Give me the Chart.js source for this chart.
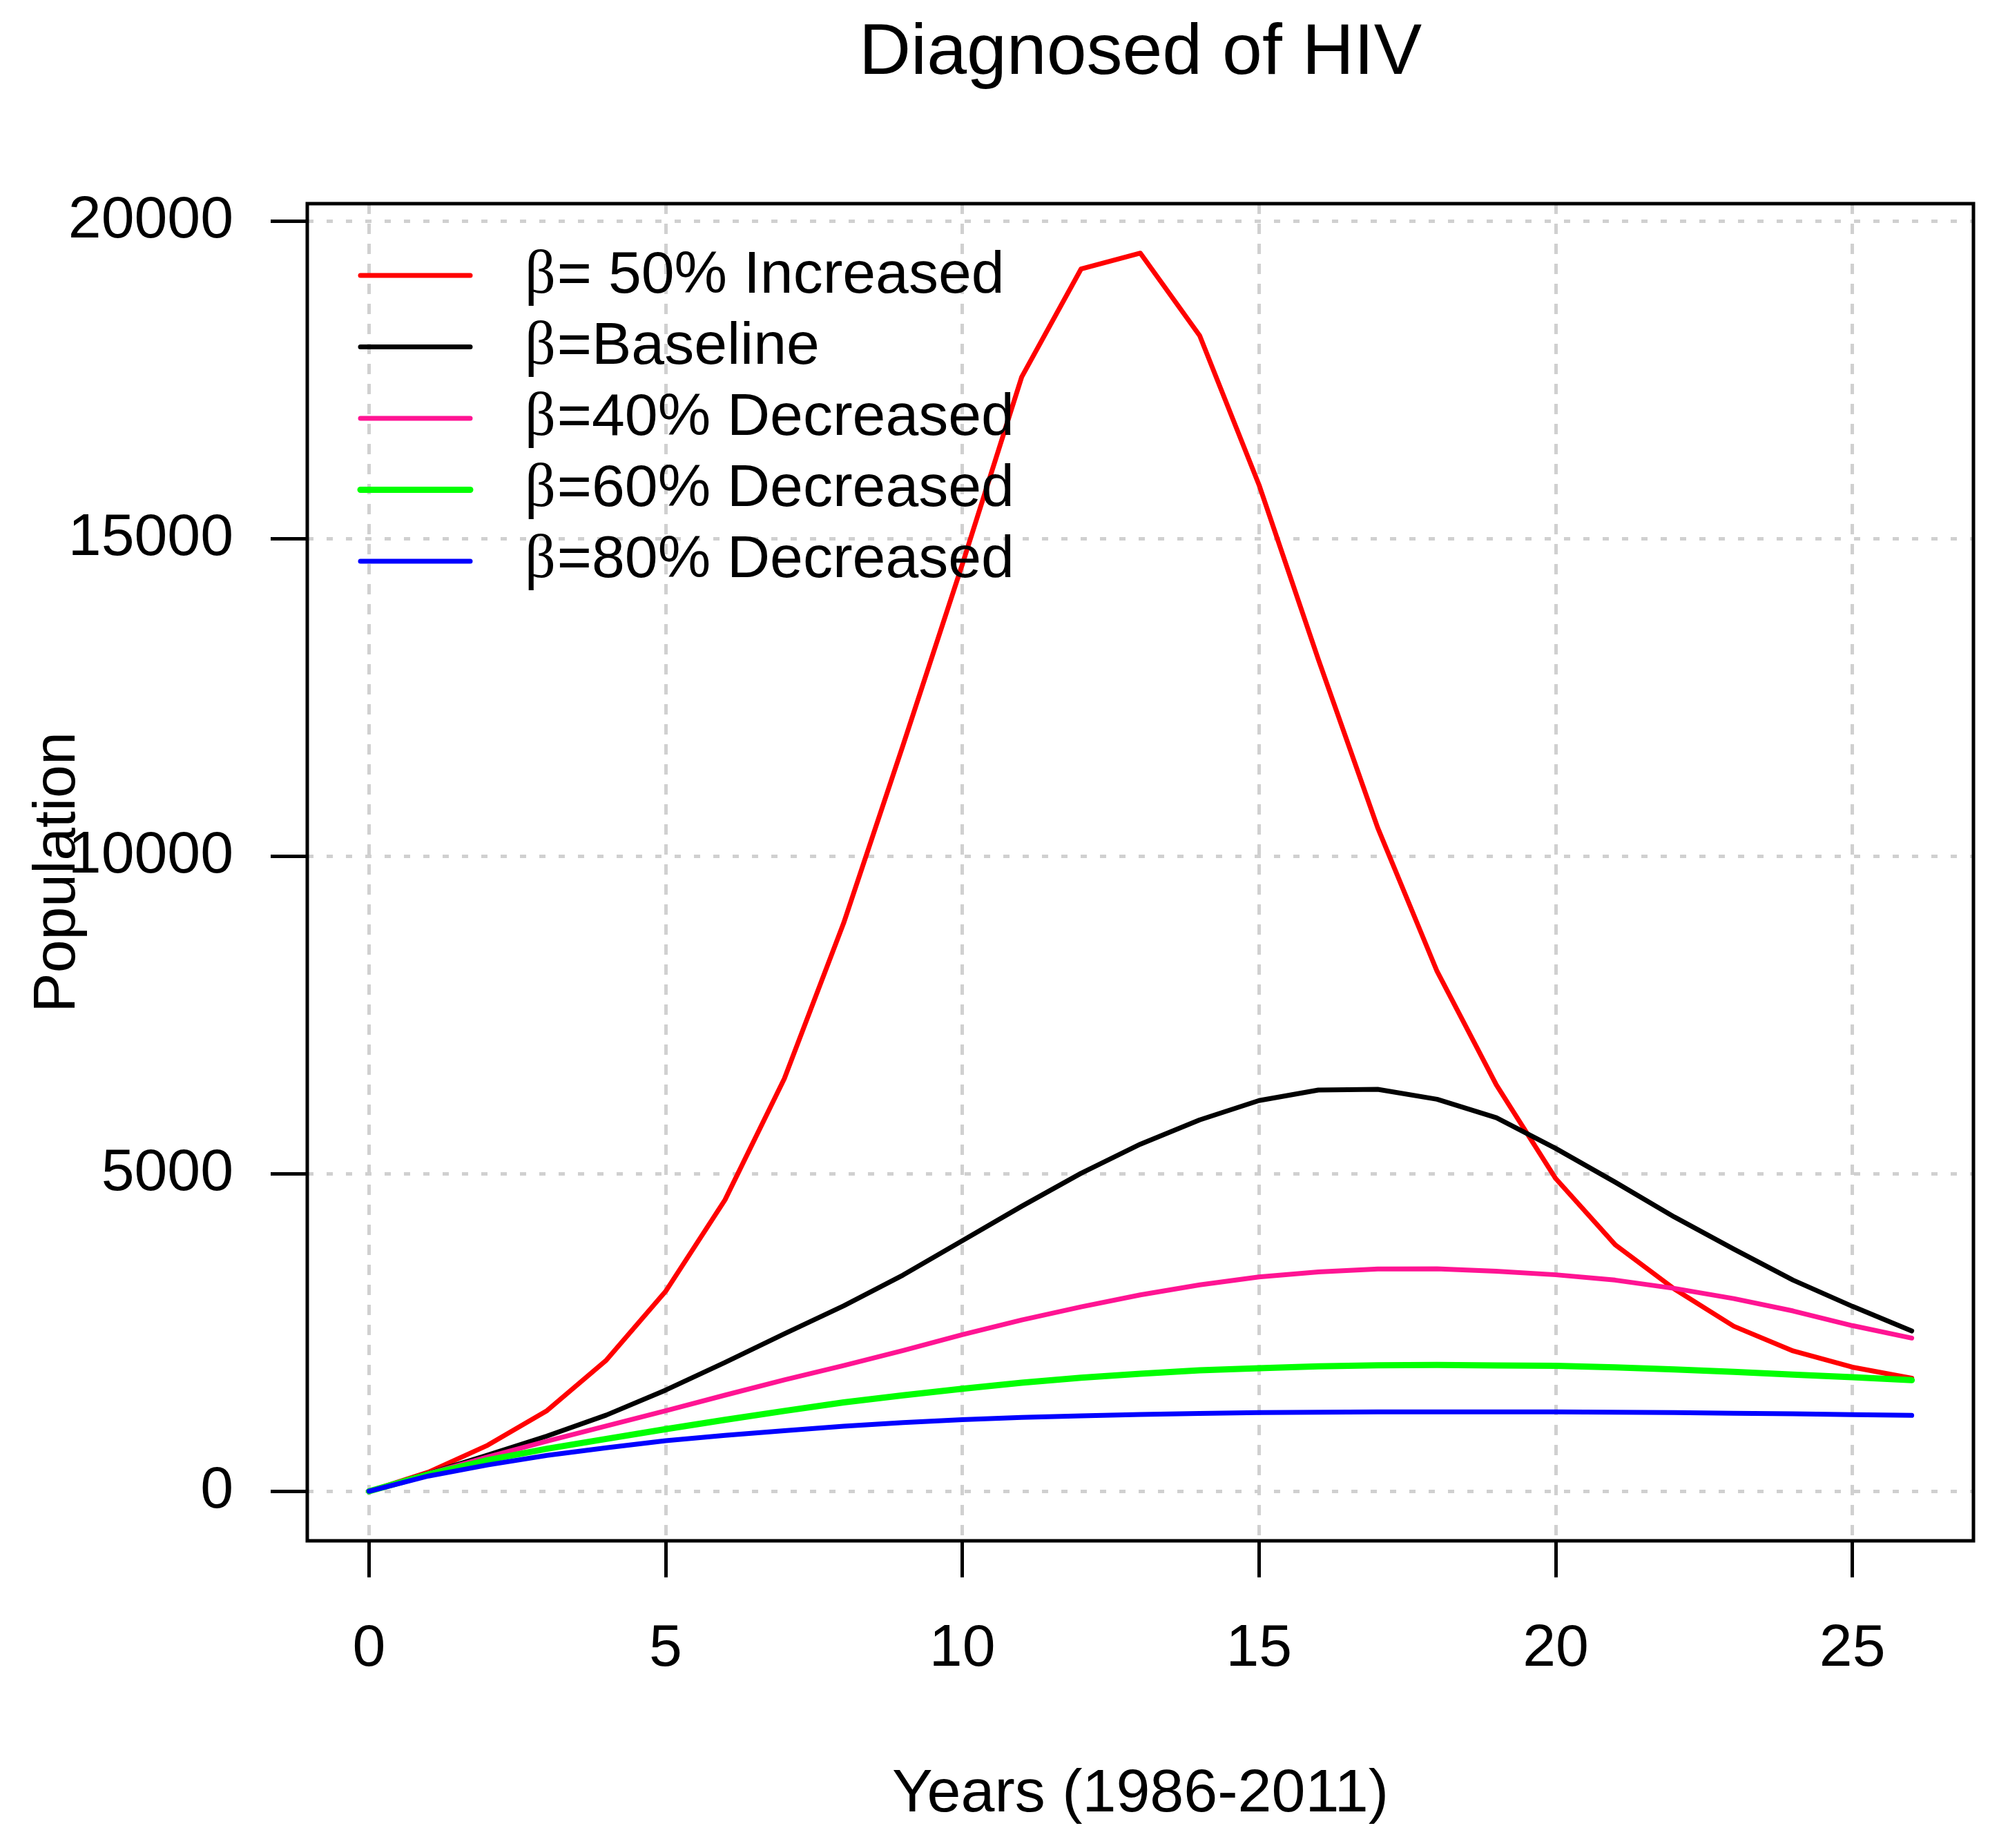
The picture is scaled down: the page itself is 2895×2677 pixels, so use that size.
<!DOCTYPE html>
<html>
<head>
<meta charset="utf-8">
<script src="https://cdn.jsdelivr.net/npm/chart.js@4.4.1/dist/chart.umd.min.js"></script>
<style>
  html, body { margin: 0; padding: 0; background: #fff; }
  #wrap { width: 2895px; height: 2677px; position: relative; }
</style>
</head>
<body>
<div id="wrap"><canvas id="hivChart"></canvas></div>
<script>
// years since 1986
const years = [0, 1, 2, 3, 4, 5, 6, 7, 8, 9, 10, 11, 12, 13, 14, 15, 16, 17, 18, 19, 20, 21, 22, 23, 24, 25, 26];

const increased50 = [0, 300, 725, 1270, 2065, 3150, 4590, 6500, 8950, 11750, 14600, 17550, 19250, 19500, 18200, 15850, 13100, 10450, 8190, 6400, 4925, 3885, 3185, 2600, 2210, 1955, 1780];
const baseline = [0, 280, 570, 870, 1200, 1594, 2030, 2480, 2920, 3405, 3946, 4489, 5008, 5467, 5850, 6154, 6320, 6330, 6174, 5883, 5400, 4870, 4320, 3815, 3326, 2913, 2525];
const decreased40 = [0, 275, 540, 790, 1030, 1268, 1514, 1755, 1980, 2217, 2467, 2697, 2905, 3093, 3251, 3376, 3455, 3500, 3505, 3467, 3410, 3326, 3195, 3035, 2840, 2609, 2413];
const decreased60 = [0, 265, 490, 670, 825, 978, 1125, 1265, 1400, 1511, 1614, 1710, 1789, 1851, 1905, 1939, 1968, 1985, 1990, 1982, 1975, 1952, 1918, 1880, 1837, 1798, 1750];
const decreased80 = [0, 240, 415, 565, 685, 797, 880, 955, 1025, 1082, 1127, 1164, 1189, 1210, 1227, 1239, 1245, 1250, 1250, 1250, 1250, 1245, 1240, 1230, 1220, 1207, 1195];

const seriesLabels = ['β= 50% Increased', 'β=Baseline', 'β=40% Decreased', 'β=60% Decreased', 'β=80% Decreased'];
const xTicks = [0, 5, 10, 15, 20, 25];
const yTicks = [0, 5000, 10000, 15000, 20000];

const toPoints = arr => years.map((x, i) => ({ x, y: arr[i] }));

// R-style frame around the plot region
const frameBox = {
    id: 'frameBox',
    afterDraw(chart) {
        const { ctx, chartArea } = chart;
        ctx.save();
        ctx.strokeStyle = '#000';
        ctx.lineWidth = 5;
        ctx.strokeRect(chartArea.left, chartArea.top, chartArea.right - chartArea.left, chartArea.bottom - chartArea.top);
        ctx.restore();
    }
};

// legend without a border, top-left inside the frame
const insetLegend = {
    id: 'insetLegend',
    afterDatasetsDraw(chart) {
        const { ctx, chartArea } = chart;
        ctx.save();
        chart.data.datasets.forEach((ds, i) => {
            const ly = chartArea.top + 104 + i * 103.5;
            ctx.strokeStyle = ds.borderColor;
            ctx.lineWidth = ds.borderWidth;
            ctx.lineCap = 'round';
            ctx.beginPath();
            ctx.moveTo(chartArea.left + 77, ly);
            ctx.lineTo(chartArea.left + 236, ly);
            ctx.stroke();

            const tx = chartArea.left + 315;
            const ty = chartArea.top + 129 + i * 103;
            ctx.fillStyle = '#000';
            ctx.textAlign = 'left';
            ctx.textBaseline = 'alphabetic';
            ctx.font = '88px "Liberation Serif"';
            ctx.fillText(ds.label.charAt(0), tx, ty);
            const bw = ctx.measureText(ds.label.charAt(0)).width;
            ctx.font = '86px "Liberation Sans"';
            ctx.fillText(ds.label.slice(1), tx + bw + 2, ty);
        });
        ctx.restore();
    }
};

const ctx = document.getElementById('hivChart').getContext('2d');
new Chart(ctx, {
    type: 'line',
    data: {
        datasets: [
            { label: seriesLabels[0], data: toPoints(increased50), borderColor: '#ff0000', borderWidth: 7, order: 5 },
            { label: seriesLabels[1], data: toPoints(baseline), borderColor: '#000000', borderWidth: 7, order: 4 },
            { label: seriesLabels[2], data: toPoints(decreased40), borderColor: '#ff1493', borderWidth: 7, order: 3 },
            { label: seriesLabels[3], data: toPoints(decreased60), borderColor: '#00ff00', borderWidth: 9, order: 2 },
            { label: seriesLabels[4], data: toPoints(decreased80), borderColor: '#0000ff', borderWidth: 7, order: 1 }
        ]
    },
    options: {
        responsive: true,
        maintainAspectRatio: false,
        devicePixelRatio: 1,
        animation: false,
        layout: { padding: { left: 0, right: 37, top: 0, bottom: 0 } },
        elements: {
            line: { tension: 0, fill: false, borderCapStyle: 'round', borderJoinStyle: 'round' },
            point: { radius: 0, hoverRadius: 0 }
        },
        plugins: {
            legend: { display: false },
            tooltip: { enabled: false },
            title: {
                display: true,
                fullSize: false,
                text: 'Diagnosed of HIV',
                color: '#000',
                font: { family: '"Liberation Sans"', size: 104, weight: 'normal', lineHeight: 1 },
                padding: { top: 26, bottom: 165 }
            }
        },
        scales: {
            x: {
                type: 'linear',
                min: -1.04,
                max: 27.04,
                afterBuildTicks: scale => { scale.ticks = xTicks.map(v => ({ value: v })); },
                afterFit: scale => { scale.height = 445; },
                ticks: {
                    color: '#000',
                    padding: 61,
                    maxRotation: 0,
                    callback: value => String(value),
                    font: { family: '"Liberation Sans"', size: 86, lineHeight: 1 }
                },
                grid: {
                    color: '#d0d0d0',
                    lineWidth: 5,
                    tickLength: 53,
                    tickColor: '#000',
                    tickWidth: 5,
                    tickBorderDash: []
                },
                border: { display: false, dash: [15, 14] },
                title: {
                    display: true,
                    text: 'Years (1986-2011)',
                    color: '#000',
                    font: { family: '"Liberation Sans"', size: 88, lineHeight: 1 },
                    padding: { top: 0, bottom: 33 }
                }
            },
            y: {
                type: 'linear',
                min: -780,
                max: 20280,
                afterBuildTicks: scale => { scale.ticks = yTicks.map(v => ({ value: v })); },
                afterFit: scale => { scale.width = 445; },
                ticks: {
                    color: '#000',
                    padding: 54,
                    callback: value => String(value),
                    font: { family: '"Liberation Sans"', size: 86, lineHeight: 1 }
                },
                grid: {
                    color: '#d0d0d0',
                    lineWidth: 5,
                    tickLength: 53,
                    tickColor: '#000',
                    tickWidth: 5,
                    tickBorderDash: []
                },
                border: { display: false, dash: [9, 19] },
                title: {
                    display: true,
                    text: 'Population',
                    color: '#000',
                    font: { family: '"Liberation Sans"', size: 86, lineHeight: 1 },
                    padding: { top: 41, bottom: 0 }
                }
            }
        }
    },
    plugins: [insetLegend, frameBox]
});
</script>
</body>
</html>
